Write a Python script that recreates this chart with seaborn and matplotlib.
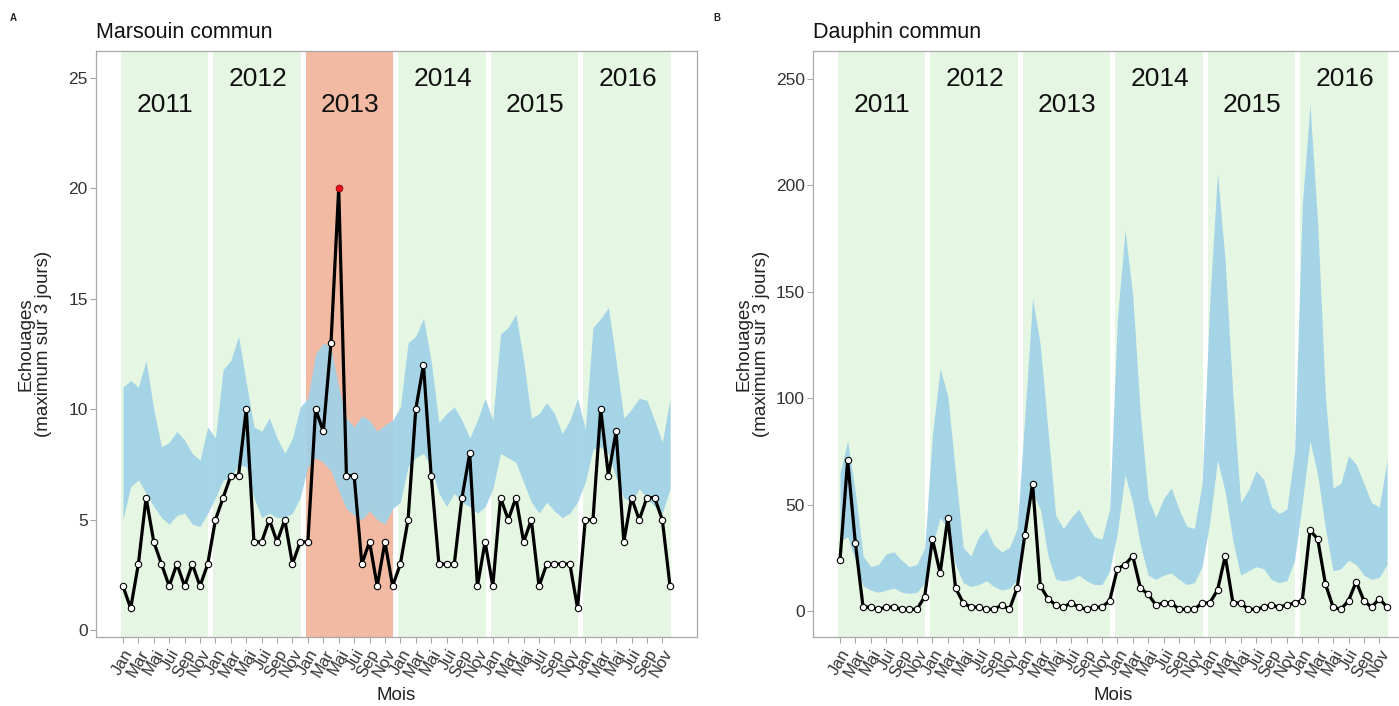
import numpy as np
import pandas as pd
import matplotlib
matplotlib.use("Agg")
import matplotlib.pyplot as plt
import matplotlib.transforms as mtransforms
import seaborn as sns

# ---------------- data ----------------
annees = [2011, 2012, 2013, 2014, 2015, 2016]
mois_labels = ["Jan", "Mar", "Mai", "Jui", "Sep", "Nov"]

marsouin_obs = [2, 1, 3, 6, 4, 3, 2, 3, 2, 3, 2, 3,
                5, 6, 7, 7, 10, 4, 4, 5, 4, 5, 3, 4,
                4, 10, 9, 13, 20, 7, 7, 3, 4, 2, 4, 2,
                3, 5, 10, 12, 7, 3, 3, 3, 6, 8, 2, 4,
                2, 6, 5, 6, 4, 5, 2, 3, 3, 3, 3, 1,
                5, 5, 10, 7, 9, 4, 6, 5, 6, 6, 5, 2]
marsouin_bas = [5.0, 6.5, 6.8, 6.2, 5.6, 5.1, 4.8, 5.2, 5.3, 4.8, 4.7, 5.3,
                6.0, 6.8, 6.9, 7.5, 7.4, 6.0, 5.1, 5.3, 5.1, 5.1, 5.3, 6.0,
                7.4, 7.8, 7.6, 7.2, 6.3, 5.5, 5.2, 5.0, 5.4, 5.0, 4.8, 5.5,
                5.8, 7.4, 7.8, 8.0, 7.4, 6.2, 5.6, 6.2, 5.8, 5.6, 5.3, 5.6,
                6.4, 8.0, 7.8, 7.6, 6.7, 5.8, 5.3, 5.8, 5.4, 5.1, 5.3, 5.8,
                6.7, 8.2, 8.3, 8.0, 6.9, 6.0, 5.8, 6.4, 6.0, 5.6, 5.3, 6.4]
marsouin_haut = [11.0, 11.3, 11.0, 12.2, 10.0, 8.3, 8.5, 9.0, 8.6, 8.0, 7.7, 9.2,
                 8.7, 11.8, 12.2, 13.3, 11.2, 9.2, 9.0, 9.6, 8.7, 8.0, 8.7, 10.1,
                 10.5, 12.5, 13.0, 12.8, 11.0, 9.6, 9.2, 9.7, 9.5, 9.0, 9.3, 9.5,
                 10.1, 13.0, 13.3, 14.1, 12.2, 9.4, 9.8, 10.1, 9.5, 8.7, 9.5, 10.5,
                 9.5, 13.4, 13.7, 14.3, 12.2, 9.6, 9.8, 10.3, 9.8, 8.9, 9.5, 10.5,
                 9.1, 13.7, 14.1, 14.6, 12.2, 9.6, 10.0, 10.5, 10.4, 9.5, 8.5, 10.5]
marsouin_alerte = [28]          # index of the highlighted (red) point
marsouin_annee_alerte = [2013]  # year shaded in red

dauphin_obs = [24, 71, 32, 2, 2, 1, 2, 2, 1, 1, 1, 7,
               34, 18, 44, 11, 4, 2, 2, 1, 1, 3, 1, 11,
               36, 60, 12, 6, 3, 2, 4, 2, 1, 2, 2, 5,
               20, 22, 26, 11, 8, 3, 4, 4, 1, 1, 1, 4,
               4, 10, 26, 4, 4, 1, 1, 2, 3, 2, 3, 4,
               5, 38, 34, 13, 2, 1, 5, 14, 5, 2, 6, 2]
dauphin_bas = [33, 35, 24, 12, 10, 9, 10, 11, 9, 8.5, 9, 13.5,
               31, 44, 39, 22, 13.5, 11.7, 12.6, 14.4, 11.7, 10, 10.8, 15,
               40, 56, 48, 26, 15, 14.4, 15, 17, 14.4, 12.6, 12.6, 19,
               37, 64, 51, 31, 17, 15, 17, 18, 15, 12.6, 13.5, 21,
               42, 71, 56, 33, 17, 19, 21, 20, 15, 13.5, 14.4, 24,
               51, 80, 64, 39, 19, 20, 24, 22, 17, 15, 16, 22]
dauphin_haut = [65, 80, 56, 26, 21, 22, 27, 28, 24, 21, 22, 30,
                83, 114, 101, 65, 30, 26, 35, 39, 31, 28, 30, 39,
                92, 147, 125, 85, 45, 39, 44, 48, 41, 35, 34, 48,
                137, 179, 148, 92, 53, 44, 53, 58, 48, 40, 39, 60,
                146, 206, 164, 101, 51, 57, 66, 62, 49, 46, 48, 75,
                191, 238, 182, 101, 58, 60, 73, 69, 60, 51, 49, 71]
dauphin_alerte = []
dauphin_annee_alerte = []

# ---------------- style ----------------
sns.set_theme(style="white")
plt.rcParams["font.family"] = ["Liberation Sans", "DejaVu Sans"]

VERT = "#e5f7e2"
ROUGE = "#f2baa2"
BLEU = "#a0d1e7"
GRIS_AXE = "#a8a8a8"
TXT = "#333333"

W, H = 1399, 706
fig = plt.figure(figsize=(W / 100, H / 100), dpi=100)
fig.patch.set_facecolor("white")

def px_box(left, top, right, bottom):
    return [left / W, 1 - bottom / H, (right - left) / W, (bottom - top) / H]


def panel(rect, titre, lettre, lettre_x, obs, bas, haut, alerte, annees_alerte,
          ylim, yticks, ylab_x):
    ax = fig.add_axes(rect)
    n = len(obs)
    df = pd.DataFrame({"mois": np.arange(n), "obs": obs, "bas": bas, "haut": haut})

    # year backgrounds
    for k, an in enumerate(annees):
        c = ROUGE if an in annees_alerte else VERT
        ax.axvspan(12 * k - 0.3, 12 * k + 11.1, color=c, lw=0, zorder=0)

    # prediction band
    ax.fill_between(df["mois"], df["bas"], df["haut"], color=BLEU, lw=0,
                    alpha=0.92, zorder=1)

    # observed series
    sns.lineplot(data=df, x="mois", y="obs", ax=ax, color="black", lw=2.3,
                 marker="o", markersize=4.6, markerfacecolor="white",
                 markeredgecolor="black", markeredgewidth=0.8, zorder=3)
    if alerte:
        sub = df.iloc[alerte]
        sns.scatterplot(data=sub, x="mois", y="obs", ax=ax, color="#e8101a",
                        s=22, edgecolor="#e8101a", zorder=4, legend=False)

    # year labels
    trans = mtransforms.blended_transform_factory(ax.transData, ax.transAxes)
    for k, an in enumerate(annees):
        yy = 0.908 if k % 2 == 0 else 0.952
        ax.text(12 * k + 5.5, yy, str(an), transform=trans, ha="center",
                va="center", fontsize=19, color="#111111", zorder=5)

    ax.set_xlim(-3.5, 74.5)
    ax.set_ylim(*ylim)
    ax.set_yticks(yticks)
    xt = [12 * k + 2 * m for k in range(len(annees)) for m in range(6)]
    ax.set_xticks(xt)
    ax.set_xticklabels(mois_labels * len(annees), rotation=60, ha="right",
                       rotation_mode="anchor")
    ax.tick_params(axis="both", direction="out", length=4, width=0.8,
                   color=GRIS_AXE, labelcolor=TXT, labelsize=12.5, pad=2,
                   bottom=True, left=True)
    ax.tick_params(axis="x", labelsize=12, pad=3)
    for s in ax.spines.values():
        s.set_color(GRIS_AXE)
        s.set_linewidth(0.9)
    ax.set_xlabel("Mois", fontsize=13.5, color="#222222")
    ax.xaxis.set_label_coords(0.5, -0.086)
    ax.set_ylabel("Echouages\n(maximum sur 3 jours)", fontsize=13.5,
                  color="#222222", linespacing=1.05)
    ax.yaxis.set_label_coords(ylab_x, 0.5)
    ax.text(0.0, 1.031, titre, transform=ax.transAxes, ha="left", va="center",
            fontsize=15.5, color="#111111")
    fig.text(lettre_x / W, 1 - 18 / H, lettre, fontsize=7, fontweight="bold",
             color="#222222", ha="left", va="center")
    return ax

panel(px_box(96, 51, 697, 637), "Marsouin commun", "A", 10,
      marsouin_obs, marsouin_bas, marsouin_haut, marsouin_alerte,
      marsouin_annee_alerte, (-0.3, 26.2), [0, 5, 10, 15, 20, 25], -0.073)
panel(px_box(813, 51, 1414, 637), "Dauphin commun", "B", 713,
      dauphin_obs, dauphin_bas, dauphin_haut, dauphin_alerte,
      dauphin_annee_alerte, (-12, 263), [0, 50, 100, 150, 200, 250], -0.072)

fig.savefig("out.png", dpi=100)
